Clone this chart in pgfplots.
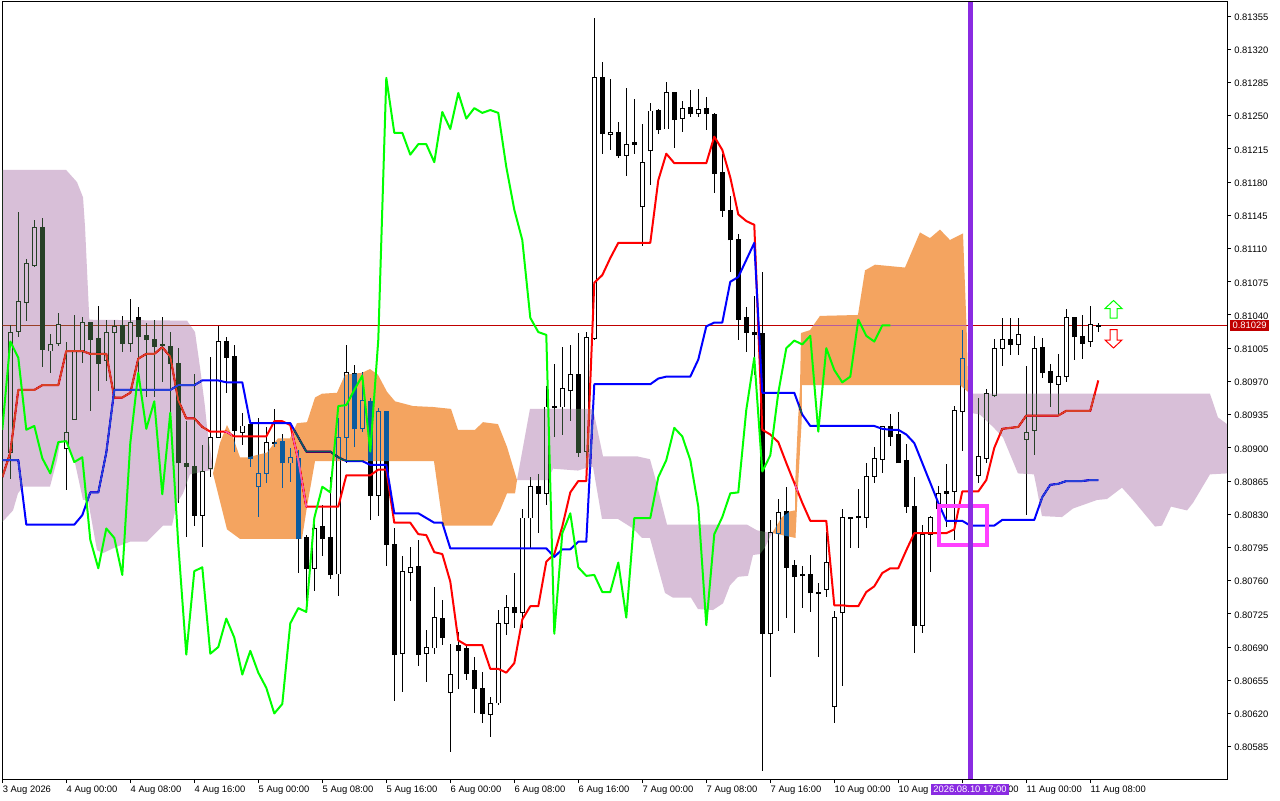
\documentclass[border=0pt]{standalone}
\usepackage{fontspec}
\setmainfont{Liberation Sans}
\usepackage{pgfplots}
\usepackage{pgfplotstable}
\pgfplotsset{compat=1.18}
\definecolor{mtpurple}{RGB}{138,43,226}
\definecolor{mtmag}{RGB}{255,64,255}
\definecolor{mtline}{RGB}{192,0,0}
\definecolor{xorsand}{RGB}{11,91,159}
\definecolor{xorthis}{RGB}{39,64,39}
% prices are in units of 0.00001: i hi lo top of body, bottom of body
\pgfplotstableread{
i hi lo bt bb
0 81029 80867 81022 80895
1 81149 81017 81054 81023
2 81099 81034 81094 81053
3 81140 81091 81132 81092
5 81020 80979 81009 81002
6 81042 81007 81030 81010
7 81012 80856 80916 80899
8 81040 80929 81002 80930
9 81038 80989 81032 81002
12 81035 80970 81022 80992
13 81035 80961 81028 81022
15 81057 81001 81032 81010
19 81038 80969 81009 81008
24 80903 80795 80875 80829
25 80996 80869 80911 80878
26 81028 80910 81012 80911
29 80937 80903 80923 80916
31 80931 80827 80873 80859
32 80922 80863 80906 80873
35 80900 80864 80890 80884
38 80824 80749 80815 80773
41 80931 80744 80911 80767
42 81008 80884 80979 80911
44 80980 80917 80950 80920
46 80942 80828 80938 80850
49 80786 80643 80770 80683
50 80795 80739 80774 80769
52 80708 80653 80690 80683
53 80753 80683 80721 80689
55 80693 80579 80661 80642
60 80637 80595 80630 80619
61 80729 80629 80715 80631
62 80745 80703 80732 80715
64 80836 80710 80826 80726
65 80869 80794 80859 80826
67 80965 80840 80943 80852
69 81006 80914 80963 80943
70 81008 80928 80977 80960
72 81022 80891 81016 80896
73 81353 81014 81290 81015
75 81289 81214 81232 81230
77 81279 81186 81220 81208
79 81241 81113 81201 81154
80 81263 81177 81255 81213
82 81286 81236 81274 81236
84 81266 81233 81258 81247
86 81278 81249 81257 81252
95 80824 80658 80811 80704
96 80846 80707 80832 80810
102 80811 80743 80779 80751
103 80728 80610 80721 80627
104 80836 80649 80827 80726
107 80884 80815 80870 80827
108 80901 80863 80889 80870
109 80922 80873 80922 80888
114 80819 80705 80809 80713
115 80828 80769 80827 80809
116 80860 80824 80852 80836
118 80944 80803 80939 80854
119 81024 80897 80994 80938
121 80953 80863 80891 80871
122 80962 80884 80957 80889
123 81015 80954 81005 80955
124 81037 80986 81014 81005
126 81037 80998 81019 81009
127 80986 80829 80916 80909
128 81018 80892 81005 80918
131 80999 80935 80975 80967
132 81046 80969 81037 80975
135 81049 81006 81030 81012
136 81032 81022 81029 81028
}\upbars
\pgfplotstableread{
i hi lo bt bb
4 81142 80985 81132 81004
10 81032 80939 81032 81014
11 81049 80960 81015 80989
14 81039 81001 81029 81010
16 81048 80979 81037 81017
17 81032 80954 81018 81014
18 81035 80954 81014 81007
20 81022 80937 81007 80989
21 81005 80842 80989 80884
22 80928 80806 80884 80880
23 80978 80818 80880 80829
27 81017 80958 81012 80995
28 81008 80896 80996 80918
30 80926 80880 80925 80889
33 80941 80901 80906 80904
34 80915 80858 80907 80884
36 80898 80768 80889 80804
37 80808 80739 80805 80773
39 80840 80786 80817 80804
40 80869 80762 80805 80766
43 80987 80901 80978 80920
45 80953 80824 80949 80850
47 80938 80775 80938 80798
48 80815 80633 80798 80682
51 80803 80670 80775 80682
54 80740 80692 80720 80700
56 80706 80646 80692 80686
57 80691 80655 80688 80662
58 80679 80620 80665 80646
59 80664 80610 80646 80620
63 80768 80710 80732 80726
66 80872 80810 80859 80852
68 80988 80911 80944 80942
71 81021 80890 80977 80895
74 81307 81210 81290 81231
76 81243 81205 81232 81208
78 81268 81210 81222 81220
81 81257 81231 81256 81235
83 81275 81216 81275 81246
85 81277 81249 81259 81252
87 81270 81235 81258 81252
88 81253 81169 81251 81189
89 81210 81143 81190 81150
90 81165 81085 81150 81119
91 81125 81014 81120 81035
92 81048 81001 81037 81022
93 81060 80977 81022 81019
94 81085 80559 81020 80704
97 80859 80721 80833 80774
98 80782 80705 80776 80764
99 80775 80731 80767 80765
100 80787 80727 80767 80747
101 80758 80680 80748 80746
105 80827 80794 80827 80825
106 80857 80794 80828 80826
110 80936 80902 80922 80912
111 80938 80884 80914 80884
112 80904 80831 80887 80838
113 80869 80684 80838 80713
117 80883 80817 80854 80852
120 80940 80868 80938 80871
125 81037 80998 81014 81009
129 81016 80974 81006 80979
130 80988 80943 80980 80969
133 81038 80993 81037 81017
134 81040 80994 81017 81010
}\downbars
\begin{document}
\begin{tikzpicture}
\path[use as bounding box, fill=white] (0,0) rectangle (640pt,400pt);
\begin{axis}[
  at={(1.25pt,10.5pt)}, anchor=south west, scale only axis,
  width=612.25pt, height=388.5pt,
  xmin=-0.975, xmax=152.09, ymin=80550.9, ymax=81369.9,
  no markers, scaled y ticks=false, scaled x ticks=false,
  axis line style={line width=0.5pt},
  tick style={line width=0.5pt, black},
  major tick length=2pt, tick align=outside,
  xtick pos=bottom, ytick pos=right, yticklabel pos=right,
  xtick={-0.975,7,15,23,31,39,47,55,63,71,79,87,95,103,111,119,127,135},
  xticklabels={3 Aug 2026,4 Aug 00:00,4 Aug 08:00,4 Aug 16:00,5 Aug 00:00,5 Aug 08:00,5 Aug 16:00,6 Aug 00:00,6 Aug 08:00,6 Aug 16:00,7 Aug 00:00,7 Aug 08:00,7 Aug 16:00,10 Aug 00:00,10 Aug 08:00,10 Aug 16:00,11 Aug 00:00,11 Aug 08:00},
  ytick={80585,80620,80655,80690,80725,80760,80795,80830,80865,80900,80935,80970,81005,81040,81075,81110,81145,81180,81215,81250,81285,81320,81355},
  yticklabels={0.80585,0.80620,0.80655,0.80690,0.80725,0.80760,0.80795,0.80830,0.80865,0.80900,0.80935,0.80970,0.81005,0.81040,0.81075,0.81110,0.81145,0.81180,0.81215,0.81250,0.81285,0.81320,0.81355},
  xticklabel style={anchor=north west, inner sep=0pt, font=\fontsize{4.7pt}{5pt}\selectfont, yshift=-1.3pt},
  yticklabel style={anchor=west, inner sep=0pt, font=\fontsize{4.7pt}{5pt}\selectfont, xshift=1.5pt, yshift=-0.5pt},
]
% current-price line
\addplot[mtline, line width=0.5pt] coordinates {(-0.975,81029)(152.09,81029)};
% wicks
\addplot[draw=none, mark=none, error bars/.cd, y dir=both, y explicit, error mark=none, error bar style={line width=0.5pt, draw=black}]
  table[x=i, y=bt, y error plus expr=\thisrow{hi}-\thisrow{bt}, y error minus expr=\thisrow{bt}-\thisrow{lo}] {\upbars};
\addplot[draw=none, mark=none, error bars/.cd, y dir=both, y explicit, error mark=none, error bar style={line width=0.5pt, draw=black}]
  table[x=i, y=bt, y error plus expr=\thisrow{hi}-\thisrow{bt}, y error minus expr=\thisrow{bt}-\thisrow{lo}] {\downbars};
% bodies
\addplot[draw=none, mark=none, error bars/.cd, y dir=plus, y explicit, error mark=none, error bar style={line width=2.5pt, draw=black}]
  table[x=i, y expr=\thisrow{bb}-0.5, y error plus expr=\thisrow{bt}-\thisrow{bb}+1, y error minus expr=0] {\downbars};
\addplot[draw=none, mark=none, error bars/.cd, y dir=plus, y explicit, error mark=none, error bar style={line width=2.5pt, draw=black}]
  table[x=i, y expr=\thisrow{bb}-0.5, y error plus expr=\thisrow{bt}-\thisrow{bb}+1, y error minus expr=0] {\upbars};
\addplot[draw=none, mark=none, error bars/.cd, y dir=plus, y explicit, error mark=none, error bar style={line width=1.5pt, draw=white}]
  table[x=i, y expr=\thisrow{bb}+0.5, y error plus expr={max(\thisrow{bt}-\thisrow{bb}-1,0)}, y error minus expr=0] {\upbars};
% Tenkan
\addplot[red, line width=1pt, line join=round] coordinates {(-1,80869)(0,80895)(1,80961)(3,80961)(4,80966)(6,80966)(7,81002)(9,81002)(10,80999)(12,80999)(13,80953)(14,80953)(15,80958)(16,80994)(17,80999)(18,80999)(19,81006)(20,80996)(21,80950)(22,80931)(23,80931)(24,80922)(25,80917)(27,80917)(28,80912)(32,80912)(33,80928)(34,80928)(35,80924)(36,80887)(37,80838)(41,80838)(42,80871)(45,80871)(46,80877)(47,80877)(48,80821)(50,80821)(51,80809)(52,80808)(53,80790)(54,80788)(55,80759)(56,80697)(57,80692)(59,80692)(60,80667)(61,80667)(62,80663)(63,80673)(64,80719)(65,80733)(66,80733)(67,80780)(68,80788)(69,80817)(70,80853)(71,80865)(72,80865)(73,81074)(74,81082)(75,81100)(76,81116)(80,81116)(81,81182)(82,81210)(83,81200)(87,81200)(88,81228)(89,81214)(90,81185)(91,81146)(92,81139)(93,81135)(94,80919)(95,80914)(96,80906)(97,80884)(98,80863)(99,80842)(100,80823)(102,80823)(103,80734)(104,80734)(105,80733)(106,80733)(107,80748)(108,80754)(109,80768)(110,80773)(111,80773)(112,80792)(113,80810)(117,80810)(118,80814)(119,80854)(121,80854)(122,80866)(123,80900)(124,80920)(125,80921)(126,80922)(127,80934)(131,80934)(132,80939)(135,80939)(136,80971)};
% Kijun
\addplot[blue, line width=1pt, line join=round] coordinates {(-1,80887)(1,80887)(2,80819)(8,80819)(9,80829)(10,80853)(11,80853)(12,80895)(13,80961)(20,80961)(21,80966)(23,80966)(24,80971)(26,80971)(27,80969)(29,80969)(30,80926)(35,80926)(36,80911)(37,80896)(40,80896)(41,80890)(42,80886)(44,80886)(45,80882)(47,80882)(48,80831)(51,80831)(52,80826)(53,80821)(54,80821)(55,80794)(67,80794)(68,80785)(69,80793)(70,80793)(71,80801)(72,80801)(73,80967)(80,80967)(81,80973)(82,80975)(85,80975)(86,80993)(87,81028)(88,81032)(89,81032)(90,81075)(91,81080)(92,81098)(93,81116)(94,80958)(98,80958)(99,80935)(100,80923)(108,80923)(109,80920)(110,80919)(111,80919)(112,80914)(113,80905)(114,80884)(115,80863)(116,80842)(117,80823)(119,80823)(120,80818)(123,80818)(124,80824)(128,80824)(129,80848)(130,80861)(131,80862)(132,80865)(134,80865)(135,80866)(136,80866)};
% clouds, blended the way the terminal blends them
\addplot[draw=none, fill=xorthis, blend mode=difference] coordinates {(-0.975,81193)(6.96,81193)(8.34,81180)(9.09,81164)(9.34,81133)(9.88,81035)(22.09,81034)(23.09,81022)(23.71,80985)(24.34,80943)(24.59,80922)(25.34,80877)(22.46,80872)(21.59,80852)(20.84,80842)(20.21,80818)(19.09,80818)(17.09,80801)(14.96,80801)(13.09,80795)(11.59,80789)(10.84,80792)(9.71,80845)(9.09,80845)(8.09,80884)(7.21,80905)(6.84,80908)(6.21,80905)(5.84,80887)(4.96,80859)(1.59,80859)(0.96,80852)(0.34,80834)(-0.975,80822)} --cycle;
\addplot[draw=none, fill=xorsand, blend mode=difference] coordinates {(25.34,80873)(26.21,80905)(27.09,80924)(27.84,80911)(28.71,80890)(29.71,80890)(32.09,80895)(33.46,80910)(34.96,80910)(35.84,80926)(37.09,80927)(38.09,80953)(38.96,80957)(40.84,80958)(41.84,80977)(43.96,80979)(44.96,80983)(45.96,80977)(47.09,80959)(48.09,80949)(50.34,80944)(52.84,80943)(55.09,80941)(55.96,80919)(58.09,80919)(59.09,80927)(60.96,80925)(62.09,80901)(63.34,80866)(63.09,80852)(62.09,80852)(61.21,80834)(60.21,80818)(54.09,80818)(52.96,80886)(38.09,80886)(37.09,80838)(36.46,80804)(28.71,80804)(27.09,80814)} --cycle;
\addplot[draw=none, fill=xorthis, blend mode=difference] coordinates {(63.34,80866)(64.96,80941)(72.84,80941)(74.09,80891)(78.34,80891)(79.96,80888)(80.59,80869)(81.21,80848)(82.09,80819)(92.09,80819)(93.34,80813)(95.21,80810)(94.34,80795)(93.71,80788)(92.84,80787)(92.21,80765)(90.96,80764)(89.96,80755)(89.09,80736)(87.84,80729)(85.96,80730)(85.09,80742)(82.84,80742)(81.84,80747)(80.96,80774)(79.96,80805)(78.96,80805)(77.84,80815)(75.96,80825)(73.96,80825)(72.84,80880)(72.09,80879)(70.96,80876)(67.84,80878)(67.21,80866)} --cycle;
\addplot[draw=none, fill=xorsand, blend mode=difference] coordinates {(95.21,80810)(96.46,80827)(97.46,80833)(98.09,80834)(98.09,80859)(98.46,80929)(98.71,80961)(98.84,81021)(99.96,81024)(101.21,81039)(105.96,81040)(106.84,81087)(108.09,81093)(111.84,81090)(113.71,81127)(114.96,81121)(116.21,81130)(117.46,81119)(119.09,81126)(119.59,81014)(119.71,80959)(118.71,80966)(98.96,80966)(98.93,80929)(98.46,80859)(98.15,80805)(95.34,80810)} --cycle;
\addplot[draw=none, fill=xorthis, blend mode=difference] coordinates {(119.71,80959)(120.21,80957)(149.96,80957)(150.96,80932)(152.09,80925)(152.09,80873)(149.96,80872)(147.84,80842)(147.09,80834)(145.09,80838)(143.96,80818)(143.09,80817)(140.34,80845)(138.96,80858)(137.09,80846)(135.84,80845)(132.84,80836)(131.46,80827)(128.96,80828)(128.34,80856)(127.96,80872)(125.96,80873)(124.09,80911)(122.84,80922)(121.21,80935)(119.96,80937)} --cycle;
% Chikou
\addplot[green, line width=1pt, line join=round] coordinates {(-1,80919)(0,81012)(1,80995)(2,80919)(3,80923)(4,80889)(5,80873)(6,80906)(7,80907)(8,80885)(9,80890)(10,80803)(11,80773)(12,80815)(13,80805)(14,80766)(15,80905)(16,80979)(17,80920)(18,80949)(19,80851)(20,80937)(21,80798)(22,80682)(23,80770)(24,80774)(25,80683)(26,80690)(27,80720)(28,80700)(29,80661)(30,80686)(31,80663)(32,80647)(33,80620)(34,80630)(35,80715)(36,80731)(37,80727)(38,80826)(39,80859)(40,80853)(41,80944)(42,80945)(43,80961)(44,80976)(45,80896)(46,81014)(47,81290)(48,81232)(49,81232)(50,81209)(51,81220)(52,81220)(53,81201)(54,81254)(55,81236)(56,81274)(57,81247)(58,81258)(59,81253)(60,81256)(61,81253)(62,81196)(63,81151)(64,81119)(65,81037)(66,81022)(67,81019)(68,80704)(69,80810)(70,80831)(71,80774)(72,80765)(73,80766)(74,80748)(75,80748)(76,80779)(77,80721)(78,80826)(79,80826)(80,80826)(81,80869)(82,80887)(83,80921)(84,80912)(85,80887)(86,80838)(87,80713)(88,80809)(89,80827)(90,80852)(91,80853)(92,80940)(93,80995)(94,80875)(95,80892)(96,80958)(97,81005)(98,81013)(99,81009)(100,81018)(101,80917)(102,81005)(103,80982)(104,80969)(105,80975)(106,81035)(107,81018)(108,81012)(109,81029)(110,81029)};
% marked rectangle and the vertical line
\addplot[mtmag, line width=2pt, line join=miter] coordinates {(116.03,80839)(122.09,80839)(122.09,80798)(116.03,80798)} --cycle;
\addplot[mtpurple, line width=2.5pt] coordinates {(120,80550.9)(120,81369.9)};
\end{axis}
\begin{scope}[x=0.5pt,y=-0.5pt,yshift=400pt]
  \fill[mtline] (1230,320) rectangle (1269,331);
  \node[text=white, inner sep=0pt, font=\fontsize{4.7pt}{5pt}\selectfont] at (1249.5,325.5) {0.81029};
  \fill[mtpurple] (931,784) rectangle (1009,795);
  \node[text=white, inner sep=0pt, font=\fontsize{4.7pt}{5pt}\selectfont] at (970,789.5) {2026.08.10 17:00};
  \draw[green, line width=0.5pt, line join=miter] (1113.5,300.5) -- (1122,308.5) -- (1117,308.5) -- (1117,318) -- (1110,318) -- (1110,308.5) -- (1105,308.5) -- cycle;
  \draw[red, line width=0.5pt, line join=miter] (1113.5,348) -- (1122,340) -- (1117,340) -- (1117,329.5) -- (1110,329.5) -- (1110,340) -- (1105,340) -- cycle;
\end{scope}
\end{tikzpicture}
\end{document}
